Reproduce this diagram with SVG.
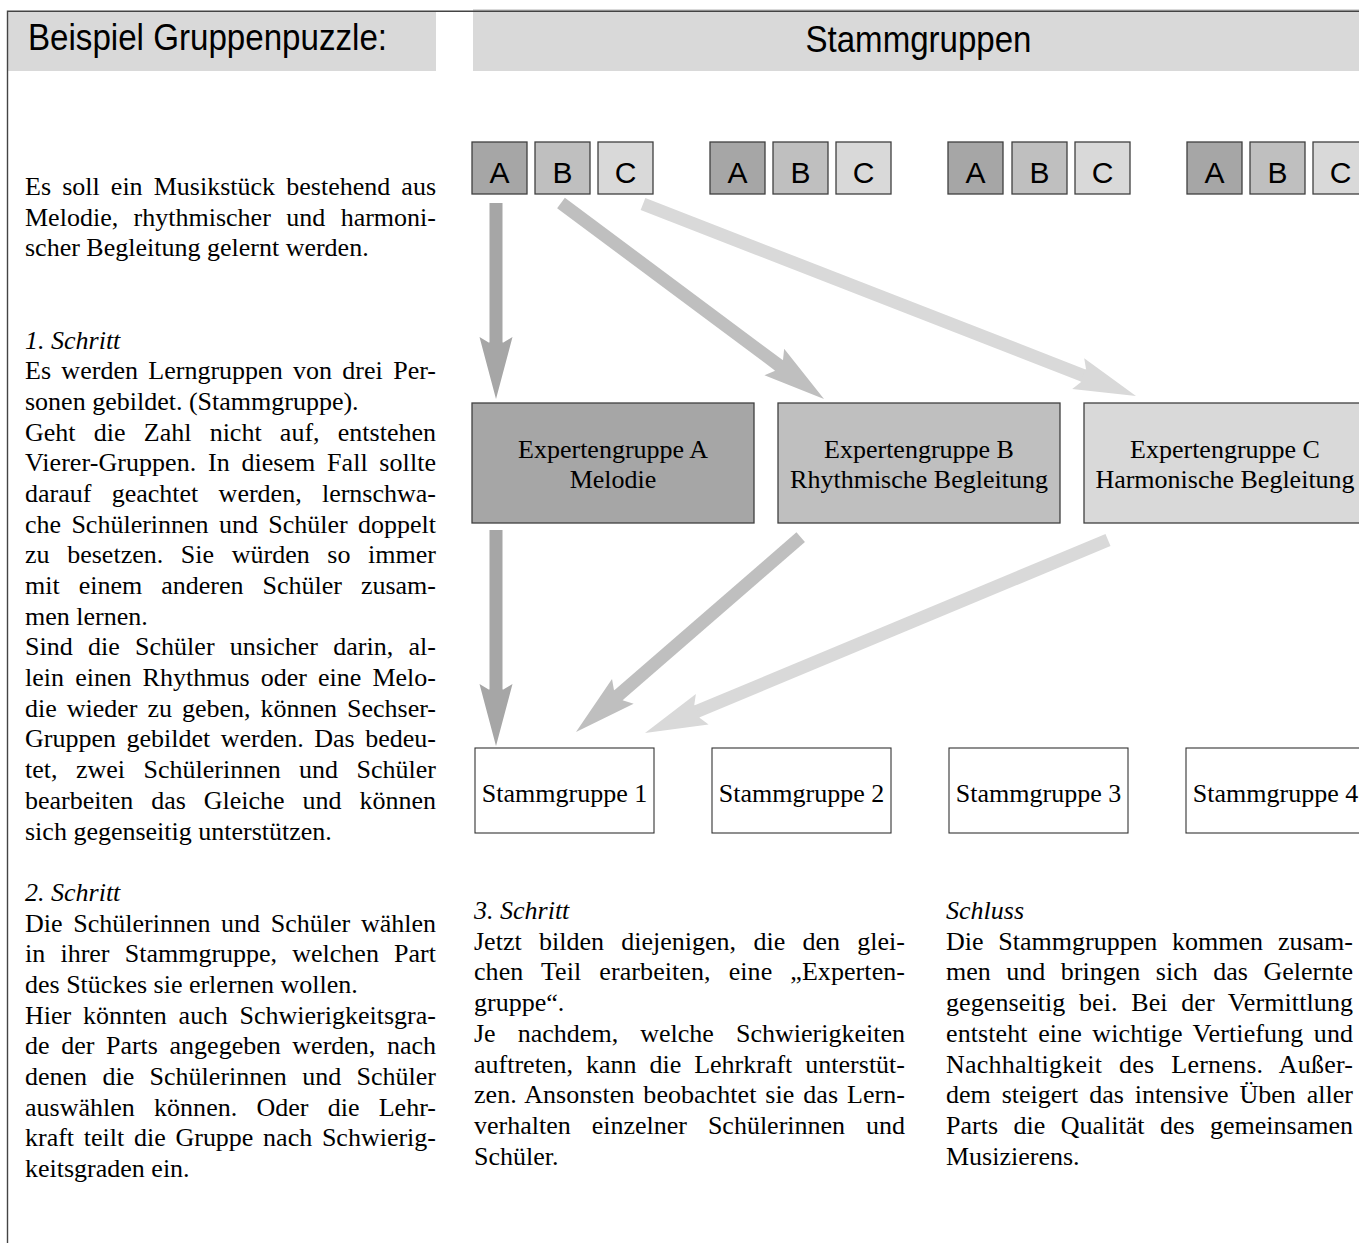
<svg xmlns="http://www.w3.org/2000/svg" width="1359" height="1243" viewBox="0 0 1359 1243">
<style>
.title{font-family:"Liberation Sans",Arial,sans-serif;font-size:37px;fill:#000}
.hdr{fill:#d9d9d9}
.box{stroke:#404040;stroke-width:1.3}
.sbox{fill:#fff;stroke:#333;stroke-width:1.1}
.fa{fill:#a6a6a6}.fb{fill:#bfbfbf}.fc{fill:#d9d9d9}
.letter{font-family:"Liberation Sans",Arial,sans-serif;font-size:30px;fill:#000;text-anchor:middle}
.body{font-family:"Liberation Serif","Times New Roman",serif;font-size:26px;fill:#000}
.ctr{text-anchor:middle}
.it{font-style:italic}
.sa{stroke:#a6a6a6}.sb{stroke:#bfbfbf}.sc{stroke:#d9d9d9}
.arr{stroke-width:13;fill:none}
</style>
<defs>
<marker id="hA" markerUnits="userSpaceOnUse" orient="auto" refX="0" refY="0" markerWidth="80" markerHeight="40" viewBox="-10 -20 80 40" overflow="visible"><path d="M-1,-6.5 L0,-6.5 L-6,-16.5 L56,0 L-6,16.5 L0,6.5 L-1,6.5 Z" fill="#a6a6a6"/></marker>
<marker id="hB" markerUnits="userSpaceOnUse" orient="auto" refX="0" refY="0" markerWidth="80" markerHeight="40" viewBox="-10 -20 80 40" overflow="visible"><path d="M-1,-6.5 L0,-6.5 L-6,-16.5 L56,0 L-6,16.5 L0,6.5 L-1,6.5 Z" fill="#bfbfbf"/></marker>
<marker id="hC" markerUnits="userSpaceOnUse" orient="auto" refX="0" refY="0" markerWidth="80" markerHeight="40" viewBox="-10 -20 80 40" overflow="visible"><path d="M-1,-6.5 L0,-6.5 L-6,-16.5 L56,0 L-6,16.5 L0,6.5 L-1,6.5 Z" fill="#d9d9d9"/></marker>
</defs>
<rect width="1359" height="1243" fill="#fff"/>

<g id="header-left">
<rect class="hdr" x="8" y="11" width="428" height="60"/>
<text class="title" x="28" y="50" textLength="359" lengthAdjust="spacingAndGlyphs">Beispiel Gruppenpuzzle:</text>
</g>
<g id="header-right">
<rect class="hdr" x="473" y="9" width="886" height="62"/>
<text class="title" x="805.5" y="51.5" textLength="226" lengthAdjust="spacingAndGlyphs">Stammgruppen</text>
</g>
<path id="frame" d="M7.5,1243 V11.3 H1359" fill="none" stroke="#444" stroke-width="1.4"/>

<g id="connectors">
<line class="arr sa" x1="496" y1="203" x2="496" y2="343" marker-end="url(#hA)"/>
<line class="arr sb" x1="561" y1="203" x2="779.1" y2="365.5" marker-end="url(#hB)"/>
<line class="arr sc" x1="643" y1="204" x2="1083.8" y2="375.7" marker-end="url(#hC)"/>
<line class="arr sa" x1="496" y1="530" x2="496" y2="690" marker-end="url(#hA)"/>
<line class="arr sb" x1="800.7" y1="537.2" x2="618.3" y2="695.3" marker-end="url(#hB)"/>
<line class="arr sc" x1="1108" y1="540" x2="696.7" y2="711.5" marker-end="url(#hC)"/>
</g>

<g id="g1-A"><rect class="box fa" x="472" y="142" width="55" height="52"/><text class="letter" x="499.5" y="183">A</text></g>
<g id="g1-B"><rect class="box fb" x="535" y="142" width="55" height="52"/><text class="letter" x="562.5" y="183">B</text></g>
<g id="g1-C"><rect class="box fc" x="598" y="142" width="55" height="52"/><text class="letter" x="625.5" y="183">C</text></g>
<g id="g2-A"><rect class="box fa" x="710" y="142" width="55" height="52"/><text class="letter" x="737.5" y="183">A</text></g>
<g id="g2-B"><rect class="box fb" x="773" y="142" width="55" height="52"/><text class="letter" x="800.5" y="183">B</text></g>
<g id="g2-C"><rect class="box fc" x="836" y="142" width="55" height="52"/><text class="letter" x="863.5" y="183">C</text></g>
<g id="g3-A"><rect class="box fa" x="948" y="142" width="55" height="52"/><text class="letter" x="975.5" y="183">A</text></g>
<g id="g3-B"><rect class="box fb" x="1012" y="142" width="55" height="52"/><text class="letter" x="1039.5" y="183">B</text></g>
<g id="g3-C"><rect class="box fc" x="1075" y="142" width="55" height="52"/><text class="letter" x="1102.5" y="183">C</text></g>
<g id="g4-A"><rect class="box fa" x="1187" y="142" width="55" height="52"/><text class="letter" x="1214.5" y="183">A</text></g>
<g id="g4-B"><rect class="box fb" x="1250" y="142" width="55" height="52"/><text class="letter" x="1277.5" y="183">B</text></g>
<g id="g4-C"><rect class="box fc" x="1313" y="142" width="55" height="52"/><text class="letter" x="1340.5" y="183">C</text></g>

<g id="expert-A"><rect class="box fa" x="472" y="403" width="282" height="120"/><text class="body ctr" x="613" y="458">Expertengruppe A</text><text class="body ctr" x="613" y="488">Melodie</text></g>
<g id="expert-B"><rect class="box fb" x="778" y="403" width="282" height="120"/><text class="body ctr" x="919" y="458">Expertengruppe B</text><text class="body ctr" x="919" y="488">Rhythmische Begleitung</text></g>
<g id="expert-C"><rect class="box fc" x="1084" y="403" width="282" height="120"/><text class="body ctr" x="1225" y="458">Expertengruppe C</text><text class="body ctr" x="1225" y="488">Harmonische Begleitung</text></g>

<g id="stamm-1"><rect class="sbox" x="475" y="748" width="179" height="85"/><text class="body ctr" x="564.5" y="802">Stammgruppe 1</text></g>
<g id="stamm-2"><rect class="sbox" x="712" y="748" width="179" height="85"/><text class="body ctr" x="801.5" y="802">Stammgruppe 2</text></g>
<g id="stamm-3"><rect class="sbox" x="949" y="748" width="179" height="85"/><text class="body ctr" x="1038.5" y="802">Stammgruppe 3</text></g>
<g id="stamm-4"><rect class="sbox" x="1186" y="748" width="179" height="85"/><text class="body ctr" x="1275.5" y="802">Stammgruppe 4</text></g>

<g id="text-left" class="body">
<text x="25" y="195" word-spacing="4.6" textLength="411" lengthAdjust="spacing">Es soll ein Musikstück bestehend aus</text>
<text x="25" y="225.7" word-spacing="8.9" textLength="411" lengthAdjust="spacing">Melodie, rhythmischer und harmoni-</text>
<text x="25" y="256.4">scher Begleitung gelernt werden.</text>
<text class="it" x="25" y="348.5">1. Schritt</text>
<text x="25" y="379.1" word-spacing="3.8" textLength="411" lengthAdjust="spacing">Es werden Lerngruppen von drei Per-</text>
<text x="25" y="409.8">sonen gebildet. (Stammgruppe).</text>
<text x="25" y="440.5" word-spacing="11.7" textLength="411" lengthAdjust="spacing">Geht die Zahl nicht auf, entstehen</text>
<text x="25" y="471.2" word-spacing="5.1" textLength="411" lengthAdjust="spacing">Vierer-Gruppen. In diesem Fall sollte</text>
<text x="25" y="501.9" word-spacing="13.8" textLength="411" lengthAdjust="spacing">darauf geachtet werden, lernschwa-</text>
<text x="25" y="532.6" word-spacing="3.8" textLength="411" lengthAdjust="spacing">che Schülerinnen und Schüler doppelt</text>
<text x="25" y="563.3" word-spacing="11.1" textLength="411" lengthAdjust="spacing">zu besetzen. Sie würden so immer</text>
<text x="25" y="594" word-spacing="12.5" textLength="411" lengthAdjust="spacing">mit einem anderen Schüler zusam-</text>
<text x="25" y="624.7">men lernen.</text>
<text x="25" y="655.4" word-spacing="8.8" textLength="411" lengthAdjust="spacing">Sind die Schüler unsicher darin, al-</text>
<text x="25" y="686.1" word-spacing="4.6" textLength="411" lengthAdjust="spacing">lein einen Rhythmus oder eine Melo-</text>
<text x="25" y="716.8" word-spacing="3.4" textLength="411" lengthAdjust="spacing">die wieder zu geben, können Sechser-</text>
<text x="25" y="747.4" word-spacing="4" textLength="411" lengthAdjust="spacing">Gruppen gebildet werden. Das bedeu-</text>
<text x="25" y="778.1" word-spacing="11.9" textLength="411" lengthAdjust="spacing">tet, zwei Schülerinnen und Schüler</text>
<text x="25" y="808.8" word-spacing="11.4" textLength="411" lengthAdjust="spacing">bearbeiten das Gleiche und können</text>
<text x="25" y="839.5">sich gegenseitig unterstützen.</text>
<text class="it" x="25" y="900.9">2. Schritt</text>
<text x="25" y="931.6" word-spacing="4.2" textLength="411" lengthAdjust="spacing">Die Schülerinnen und Schüler wählen</text>
<text x="25" y="962.3" word-spacing="8.7" textLength="411" lengthAdjust="spacing">in ihrer Stammgruppe, welchen Part</text>
<text x="25" y="993">des Stückes sie erlernen wollen.</text>
<text x="25" y="1023.6" word-spacing="5.3" textLength="411" lengthAdjust="spacing">Hier könnten auch Schwierigkeitsgra-</text>
<text x="25" y="1054.3" word-spacing="5.1" textLength="411" lengthAdjust="spacing">de der Parts angegeben werden, nach</text>
<text x="25" y="1085" word-spacing="8.9" textLength="411" lengthAdjust="spacing">denen die Schülerinnen und Schüler</text>
<text x="25" y="1115.7" word-spacing="12.7" textLength="411" lengthAdjust="spacing">auswählen können. Oder die Lehr-</text>
<text x="25" y="1146.4" word-spacing="3.2" textLength="411" lengthAdjust="spacing">kraft teilt die Gruppe nach Schwierig-</text>
<text x="25" y="1177.1">keitsgraden ein.</text>
</g>

<g id="text-mid" class="body">
<text class="it" x="474" y="919">3. Schritt</text>
<text x="474" y="949.7" word-spacing="10.8" textLength="431" lengthAdjust="spacing">Jetzt bilden diejenigen, die den glei-</text>
<text x="474" y="980.4" word-spacing="11.5" textLength="431" lengthAdjust="spacing">chen Teil erarbeiten, eine „Experten-</text>
<text x="474" y="1011.1">gruppe“.</text>
<text x="474" y="1041.8" word-spacing="15.6" textLength="431" lengthAdjust="spacing">Je nachdem, welche Schwierigkeiten</text>
<text x="474" y="1072.5" word-spacing="6.5" textLength="431" lengthAdjust="spacing">auftreten, kann die Lehrkraft unterstüt-</text>
<text x="474" y="1103.1" word-spacing="2.4" textLength="431" lengthAdjust="spacing">zen. Ansonsten beobachtet sie das Lern-</text>
<text x="474" y="1133.8" word-spacing="14.4" textLength="431" lengthAdjust="spacing">verhalten einzelner Schülerinnen und</text>
<text x="474" y="1164.5">Schüler.</text>
</g>

<g id="text-right" class="body">
<text class="it" x="946" y="919">Schluss</text>
<text x="946" y="949.7" word-spacing="8.3" textLength="407" lengthAdjust="spacing">Die Stammgruppen kommen zusam-</text>
<text x="946" y="980.4" word-spacing="9" textLength="407" lengthAdjust="spacing">men und bringen sich das Gelernte</text>
<text x="946" y="1011.1" word-spacing="7" textLength="407" lengthAdjust="spacing">gegenseitig bei. Bei der Vermittlung</text>
<text x="946" y="1041.8" word-spacing="3.9" textLength="407" lengthAdjust="spacing">entsteht eine wichtige Vertiefung und</text>
<text x="946" y="1072.5" word-spacing="10.2" textLength="407" lengthAdjust="spacing">Nachhaltigkeit des Lernens. Außer-</text>
<text x="946" y="1103.1" word-spacing="4.4" textLength="407" lengthAdjust="spacing">dem steigert das intensive Üben aller</text>
<text x="946" y="1133.8" word-spacing="9" textLength="407" lengthAdjust="spacing">Parts die Qualität des gemeinsamen</text>
<text x="946" y="1164.5">Musizierens.</text>
</g>
</svg>
